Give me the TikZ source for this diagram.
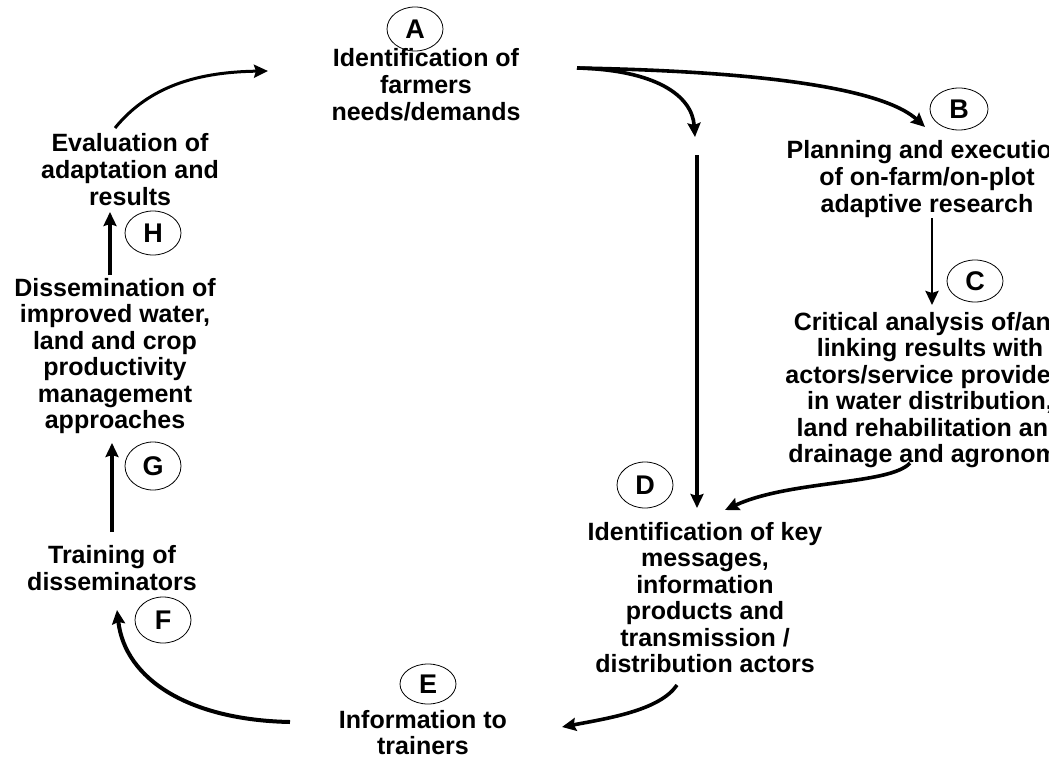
\documentclass[tikz,border=0pt]{standalone}
\usepackage{fontspec}
\setmainfont{Liberation Sans}
\usetikzlibrary{shapes.geometric,arrows.meta}
\tikzset{
  lbl/.style={draw, ellipse, line width=0.8pt, inner sep=0pt, minimum width=56pt, minimum height=44pt,
    font=\fontsize{27}{29}\selectfont\bfseries},
  txt/.style={align=center, anchor=north, inner sep=0pt, font=\fontsize{25}{27}\selectfont\bfseries},
  txtb/.style={txt, font=\fontsize{25}{26.5}\selectfont\bfseries},
  flow/.style={line width=3.6pt, -{Stealth[length=14pt,width=13pt,inset=2pt]}}
}
\begin{document}
\begin{tikzpicture}[x=1pt,y=-1pt]
\useasboundingbox (0,0) rectangle (1049,757);
\clip (0,0) rectangle (1049,757);
\fill[white] (0,0) rectangle (1049,757);
% labels
\node[lbl] (cA) at (415,29) {A};
\node[lbl, minimum width=58pt, minimum height=42pt] (cB) at (959,109) {B};
\node[lbl, minimum height=42pt] (cC) at (975,281) {C};
\node[lbl, minimum height=46pt] (cD) at (645,485) {D};
\node[lbl, minimum height=40pt] (cE) at (428,684) {E};
\node[lbl, minimum height=46pt] (cF) at (163,620) {F};
\node[lbl, minimum height=48pt] (cG) at (153,466) {G};
\node[lbl] (cH) at (153,233) {H};
% texts
\node[txt] (tA) at (426,48) {Identification of\\farmers\\needs/demands};
\node[txt] (tB) at (927,140) {Planning and execution\\of on-farm/on-plot\\adaptive research};
\node[txtb] (tC) at (930,312) {Critical analysis of/and\\linking results with\\actors/service providers\\in water distribution,\\land rehabilitation and\\drainage and agronomy};
\node[txtb] (tD) at (705,522) {Identification of key\\messages,\\information\\products and\\transmission /\\distribution actors};
\node[txt, font=\fontsize{25}{26}\selectfont\bfseries] (tE) at (423,710) {Information to\\trainers};
\node[txt] (tF) at (112,545) {Training of\\disseminators};
\node[txtb] (tG) at (115,278) {Dissemination of\\improved water,\\land and crop\\productivity\\management\\approaches};
\node[txt] (tH) at (130,133) {Evaluation of\\adaptation and\\results};
% connector ends
\coordinate (aR) at (577,68);
\coordinate (bIn) at (925,127);
\coordinate (dBr) at (695,137);
\coordinate (dTop) at (697,155);
\coordinate (dIn) at (697,508);
\coordinate (bOut) at (932,218);
\coordinate (cIn) at (932,305);
\coordinate (cOut) at (910,463);
\coordinate (dIn2) at (725,510);
\coordinate (dOut) at (677,685);
\coordinate (eIn) at (562,727);
\coordinate (eOut) at (290,722);
\coordinate (fIn) at (117,610);
\coordinate (fOut) at (112,532);
\coordinate (gIn) at (112,443);
\coordinate (gOut) at (110,275);
\coordinate (hIn) at (110,212);
\coordinate (hOut) at (115,128);
\coordinate (aIn) at (268,71);
% connectors
\draw[flow] (aR) .. controls (800,72) and (890,95) .. (bIn);
\draw[flow] (aR) .. controls (655,70) and (692,95) .. (dBr);
\draw[flow] (dTop) -- (dIn);
\draw[flow, line width=2.6pt] (bOut) -- (cIn);
\draw[flow] (cOut) .. controls (890,485) and (790,480) .. (dIn2);
\draw[flow] (dOut) .. controls (660,710) and (610,718) .. (eIn);
\draw[flow, line width=4pt] (eOut) .. controls (190,720) and (125,680) .. (fIn);
\draw[flow] (fOut) -- (gIn);
\draw[flow] (gOut) -- (hIn);
\draw[flow, line width=3pt] (hOut) .. controls (150,85) and (200,72) .. (aIn);
\end{tikzpicture}
\end{document}
